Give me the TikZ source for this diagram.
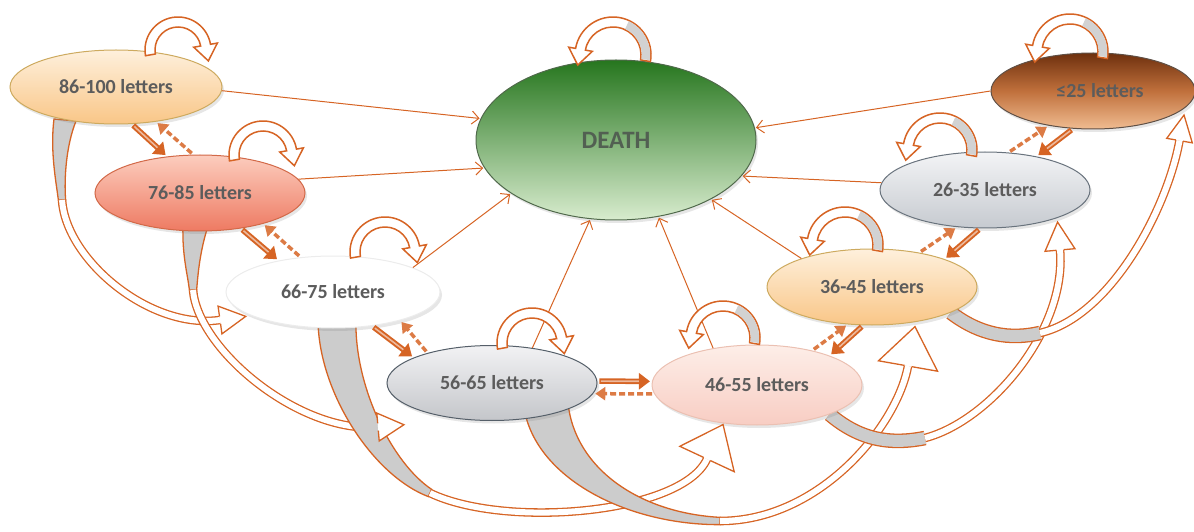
\documentclass[tikz,border=0pt]{standalone}
\usepackage{fontspec}
\setmainfont{Carlito}
\usetikzlibrary{calc}
\usetikzlibrary{arrows.meta}
\usetikzlibrary{shapes.geometric}
\usetikzlibrary{shadows}

\pgfdeclarelayer{background}
\pgfsetlayers{background,main}

\definecolor{tcol}{RGB}{214,100,36}
\definecolor{txtgray}{RGB}{92,92,92}
\definecolor{aTop}{RGB}{254,240,220}
\definecolor{aBot}{RGB}{249,198,135}
\definecolor{aLine}{RGB}{205,170,95}
\definecolor{bTop}{RGB}{252,205,190}
\definecolor{bBot}{RGB}{238,122,98}
\definecolor{bLine}{RGB}{210,105,72}
\definecolor{dTop}{RGB}{242,242,244}
\definecolor{dBot}{RGB}{196,198,202}
\definecolor{dLine}{RGB}{85,95,105}
\definecolor{eTop}{RGB}{253,238,232}
\definecolor{eBot}{RGB}{248,205,195}
\definecolor{eLine}{RGB}{235,192,178}
\definecolor{gTop}{RGB}{243,244,246}
\definecolor{gBot}{RGB}{198,202,208}
\definecolor{gLine}{RGB}{105,115,125}
\definecolor{hTop}{RGB}{110,48,14}
\definecolor{hMid}{RGB}{192,112,60}
\definecolor{hBot}{RGB}{240,188,145}
\definecolor{hLine}{RGB}{95,80,70}
\definecolor{deathTop}{RGB}{38,118,30}
\definecolor{deathBot}{RGB}{216,236,206}
\definecolor{deathLine}{RGB}{80,105,75}

\begin{document}
\begin{tikzpicture}[x=1pt,y=1pt,
    state/.style={ellipse, inner sep=0pt, line width=1pt, text=txtgray,
        font=\fontsize{20}{24}\selectfont\bfseries,
        drop shadow={opacity=0.2, shadow xshift=2pt, shadow yshift=-3pt}},
    thinarr/.style={tcol, line width=1pt, -{Straight Barb[length=7pt,width=13pt]}, shorten >=1pt},
    solidarr/.style={tcol, line width=5.5pt, -{Triangle[length=11pt,width=16pt]}, shorten <=2pt, shorten >=2pt},
    solidin/.style={white!55!tcol, line width=1.6pt, shorten <=3.5pt, shorten >=13pt},
    dasharr/.style={tcol!85!white, line width=3.5pt, dash pattern=on 6pt off 3pt, -{Triangle[length=10pt,width=13pt]}, shorten <=2pt, shorten >=2pt},
    loopline/.style={tcol, line width=1.5pt, fill=white, line join=miter},
    grayfill/.style={tcol, line width=1.3pt, fill=gray!40},
    grayband/.style={tcol, line width=1.3pt, double=gray!40, double distance=#1},
    grayband/.default=12pt,
    whiteband/.style={tcol, line width=1.3pt, double=white, double distance=6pt},
    headline/.style={tcol, line width=1.3pt, fill=white, line join=miter}]

\useasboundingbox (0,0) rectangle (1194,531);

\newcommand{\loopcw}[2]{
    \draw[loopline] ($(#1)+(190:{#2+5})$) arc[start angle=190, end angle=10, radius=#2+5]
        -- ($(#1)+(10:{#2+12})$) -- ($(#1)+(10:#2)+(-80:16)$) -- ($(#1)+(10:{#2-12})$)
        -- ($(#1)+(10:{#2-5})$) arc[start angle=10, end angle=190, radius=#2-5] -- cycle;
}

\newcommand{\loopccw}[2]{
    \draw[loopline] ($(#1)+(-10:{#2+5})$) arc[start angle=-10, end angle=170, radius=#2+5]
        -- ($(#1)+(170:{#2+12})$) -- ($(#1)+(170:#2)+(260:16)$) -- ($(#1)+(170:{#2-12})$)
        -- ($(#1)+(170:{#2-5})$) arc[start angle=170, end angle=-10, radius=#2-5] -- cycle;
    \fill[gray!35] ($(#1)+(-8:{#2+4.2})$) arc[start angle=-8, end angle=65, radius=#2+4.2]
        -- ($(#1)+(65:{#2-4.2})$) arc[start angle=65, end angle=-8, radius=#2-4.2] -- cycle;
}

\newcommand{\bighead}[4]{
    \draw[headline] ($(#1)+({#2+90}:3.65)$) -- ($(#1)+({#2+90}:#4)$) -- ($(#1)+(#2:#3)$)
        -- ($(#1)+({#2-90}:#4)$) -- ($(#1)+({#2-90}:3.65)$);
}

\newcommand{\solidtr}[2]{
    \draw[solidarr] (#1) -- (#2);
    \draw[solidin] (#1) -- (#2);
}

\newcommand{\dashtr}[2]{
    \draw[dasharr] (#1) -- (#2);
}

% states
\node[state, minimum width=212pt, minimum height=74pt, draw=aLine, top color=aTop, bottom color=aBot] (A) at (116,444) {86-100 letters};
\node[state, minimum width=210pt, minimum height=76pt, draw=bLine, top color=bTop, bottom color=bBot] (B) at (200,338) {76-85 letters};
\node[state, minimum width=214pt, minimum height=72pt, draw=gray!15, fill=white] (C) at (333,239) {66-75 letters};
\node[state, minimum width=210pt, minimum height=75pt, draw=dLine, top color=dTop, bottom color=dBot] (D) at (492,148) {56-65 letters};
\node[state, minimum width=210pt, minimum height=80pt, draw=eLine, top color=eTop, bottom color=eBot] (E) at (757,146) {46-55 letters};
\node[state, minimum width=210pt, minimum height=76pt, draw=aLine, top color=aTop, bottom color=aBot] (F) at (872,244) {36-45 letters};
\node[state, minimum width=210pt, minimum height=76pt, draw=gLine, top color=gTop, bottom color=gBot] (G) at (985,341) {26-35 letters};
\node[state, minimum width=204pt, minimum height=76pt, draw=hLine, top color=hTop, bottom color=hBot, middle color=hMid] (H) at (1093,440) {\hspace{14pt}≤25 letters};
\node[state, minimum width=280pt, minimum height=160pt, draw=deathLine, top color=deathTop, bottom color=deathBot,
    font=\fontsize{25}{30}\selectfont\bfseries, text={rgb,255:red,82;green,96;blue,82}] (death) at (616,391) {DEATH};

% band ends
\coordinate (ac1) at (62,331);
\coordinate (ac2) at (220,211);
\coordinate (bd1) at (193,241);
\coordinate (bd2) at (378,104);
\coordinate (ce1) at (430,38);
\coordinate (ce2) at (707,72);
\coordinate (df1) at (720,10);
\coordinate (df2) at (908,165);
\coordinate (eg1) at (925,93);
\coordinate (eg2) at (1060,281);
\coordinate (fh1) at (1040,198);
\coordinate (fh2) at (1179.5,390.4);

% two steps at once
\begin{pgfonlayer}{background}
\draw[grayfill] (54,412) .. controls (50,380) and (56,350) .. (58.35,331) -- (65.65,331)
    .. controls (64,352) and (66,385) .. (76,410) -- cycle;
\draw[whiteband] (ac1) .. controls (66,271) and (150,201) .. (ac2);

\draw[grayfill] (183,305) .. controls (182,275) and (188,255) .. (189.35,241) -- (196.65,241)
    .. controls (198,258) and (200,280) .. (208,305) -- cycle;
\draw[whiteband] (bd1) .. controls (198,181) and (300,97) .. (bd2);

\draw[grayfill] (318,212) .. controls (318,140) and (372,56) .. (428.3,34.4) -- (431.7,41.6)
    .. controls (392,68) and (354,145) .. (356,212) -- cycle;
\draw[whiteband] (ce1) .. controls (505,2) and (682,17) .. (ce2);

\draw[grayfill] (525,118) .. controls (540,50) and (630,6) .. (720,6.35) -- (720,13.65)
    .. controls (640,18) and (575,62) .. (568,128) -- cycle;
\draw[whiteband] (df1) .. controls (820,10) and (897,105) .. (df2);

\draw[grayband] (E.-22) .. controls (860,91) and (890,86) .. (eg1);
\draw[whiteband] (eg1) .. controls (990,110) and (1067,201) .. (eg2);

\draw[grayband] (F.-18) .. controls (980,196) and (1010,191) .. (fh1);
\draw[whiteband] (fh1) .. controls (1110,214) and (1167,321) .. (fh2);
\end{pgfonlayer}
\bighead{ac2}{8}{26}{14}
\bighead{bd2}{5}{26}{14}
\bighead{ce2}{65}{38}{30}
\bighead{df2}{80}{40}{30}
\bighead{eg2}{95}{28}{15}
\bighead{fh2}{80}{26}{13}

% to death
\draw[thinarr] (A.-2) -- (death.171);
\draw[thinarr] (B.8) -- (death.192);
\draw[thinarr] (C.17) -- (death.207);
\draw[thinarr] (D.41) -- (death.252);
\draw[thinarr] (E.140) -- (death.299);
\draw[thinarr] (F.158) -- (death.328);
\draw[thinarr] (G.176) -- (death.344);
\draw[thinarr] (H.180) -- (death.5);

% one step
\solidtr{A.-67}{B.132}  \dashtr{B.100}{A.-41}
\solidtr{B.-41}{C.150}  \dashtr{C.133}{B.-26}
\solidtr{C.-41}{D.162}  \dashtr{D.155}{C.-23}
\solidtr{D.1}{E.178}    \dashtr{E.185}{D.-6}
\solidtr{F.257}{E.22}   \dashtr{E.32}{F.237}
\solidtr{G.263}{F.21}   \dashtr{F.36}{G.233}
\solidtr{H.242}{G.33}   \dashtr{G.58}{H.218}

% stay
\loopcw{$(A)+(62,37)$}{28}
\loopcw{$(B)+(63,38)$}{29}
\loopcw{$(C)+(52,40)$}{30}
\loopcw{$(D)+(40,40)$}{30}
\loopccw{$(death)+(-3,85)$}{33}
\loopccw{$(E)+(-34,47)$}{32}
\loopccw{$(F)+(-27,42)$}{33}
\loopccw{$(G)+(-45,40)$}{32}
\loopccw{$(H)+(-23,39)$}{33}
\end{tikzpicture}
\end{document}
